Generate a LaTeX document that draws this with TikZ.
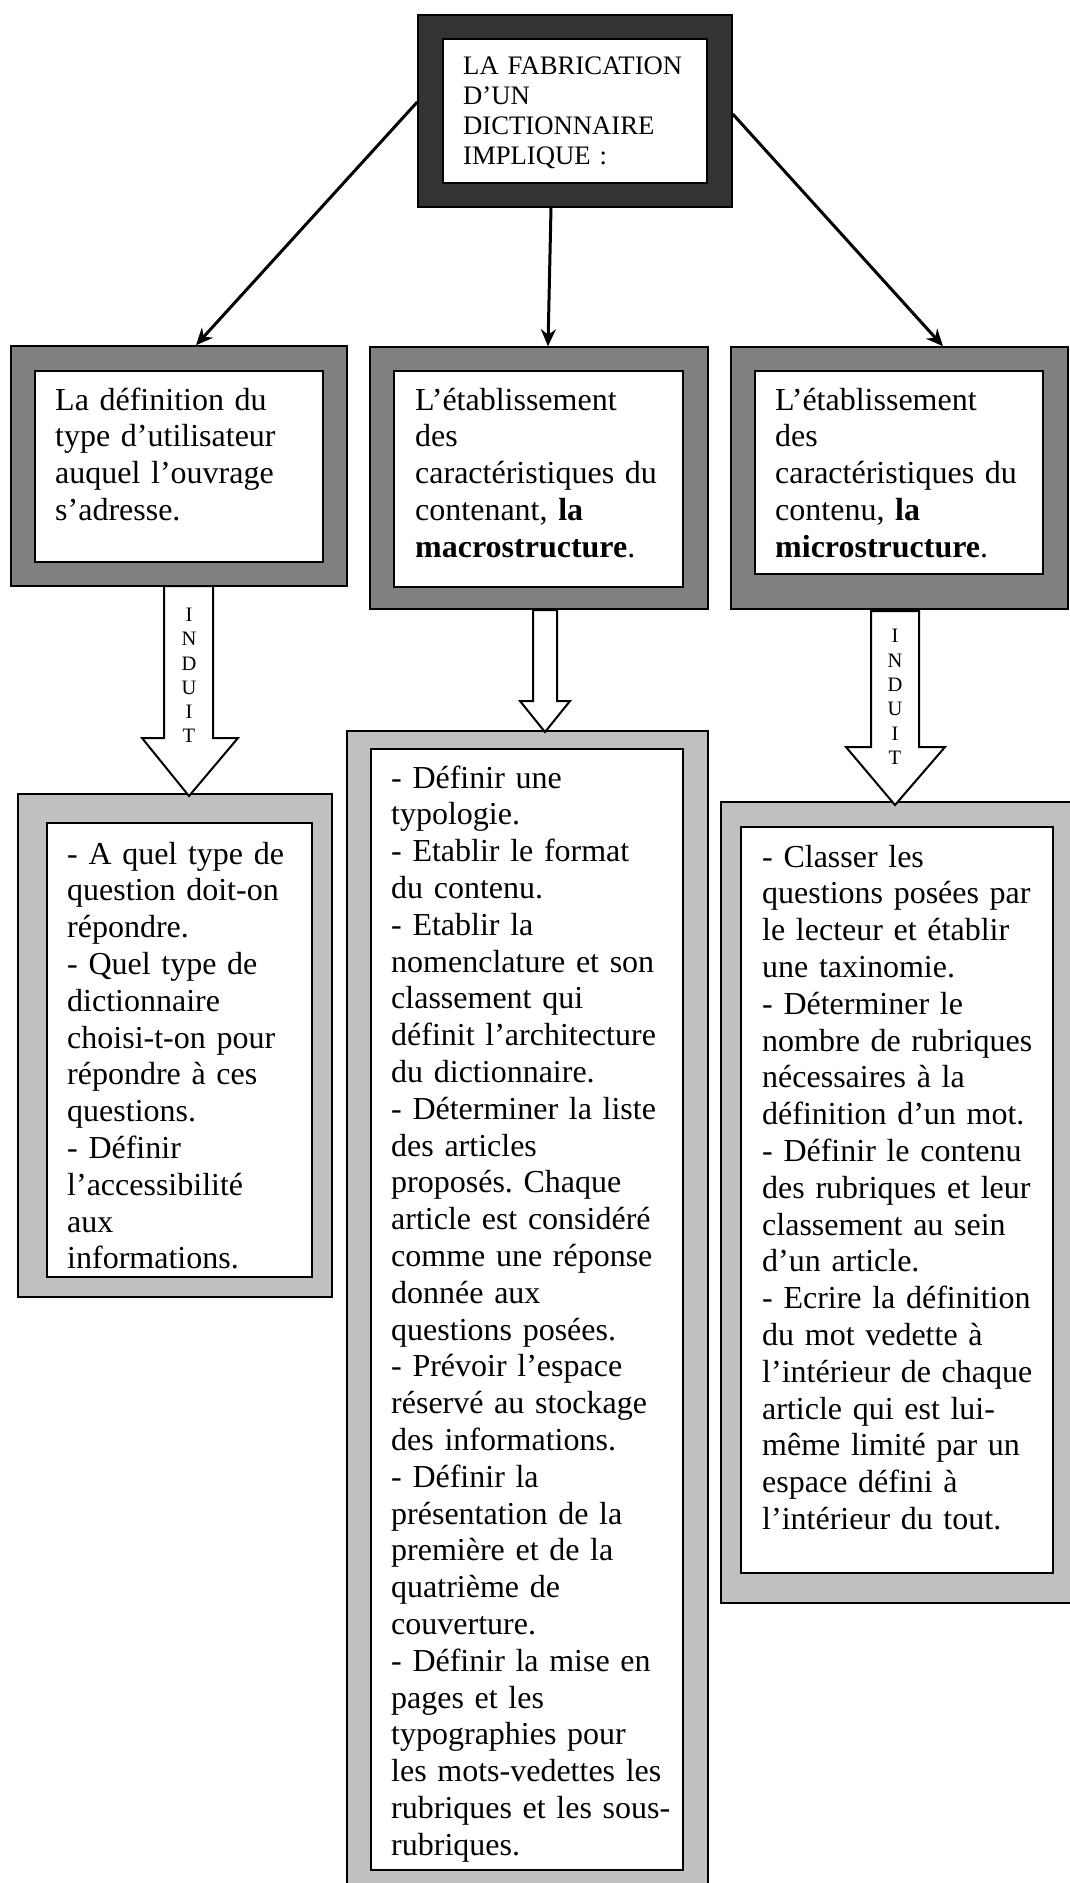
\documentclass[tikz,border=0pt]{standalone}
\usepackage{fontspec}
\setmainfont{Liberation Serif}
\usepackage{xcolor}
\usetikzlibrary{arrows.meta,positioning}
\frenchspacing

\definecolor{darkfill}{HTML}{333333}
\definecolor{midfill}{HTML}{808080}
\definecolor{lightfill}{HTML}{C0C0C0}

\tikzset{
  outerbox/.style={draw=black, line width=1.5pt, inner sep=0pt},
  innerbox/.style={draw=black, line width=1.5pt, fill=white, inner sep=0pt},
  boxtext/.style={anchor=base west, inner sep=0pt, align=left, text width=330pt,
    font=\fontsize{32}{36.8}\selectfont},
  toptext/.style={anchor=base west, inner sep=0pt, align=left, text width=250pt,
    font=\fontsize{26.7}{30.3}\selectfont},
  induit/.style={inner sep=0pt, align=center, font=\fontsize{20.5}{24.3}\selectfont},
  fatarrow/.style={draw=black, line width=2pt, fill=white, line join=miter},
  link/.style={->, line width=3pt}
}

\begin{document}
\begin{tikzpicture}[x=1pt,y=-1pt,>={Stealth[length=17pt,width=15pt]}]
\useasboundingbox (0,0) rectangle (1070,1883);
\clip (0,0) rectangle (1070,1883);

% top box
\node[outerbox, fill=darkfill, minimum width=314pt, minimum height=192pt] (topout) at (575,111) {};
\node[innerbox, minimum width=264pt, minimum height=144pt] (topin) at (575,111) {};
\node[toptext] (toplabel) at (463,74) {LA FABRICATION\\D’UN\\DICTIONNAIRE\\IMPLIQUE :};

% second row
\node[outerbox, fill=midfill, minimum width=336pt, minimum height=240pt] (userout) at (179,466) {};
\node[innerbox, minimum width=288pt, minimum height=191pt] (userin) at (179,466.5) {};
\node[boxtext] (userlabel) at (55,410) {La définition du\\type d’utilisateur\\auquel l’ouvrage\\s’adresse.};

\node[outerbox, fill=midfill, minimum width=338pt, minimum height=262pt] (macroout) at (539,478) {};
\node[innerbox, minimum width=289pt, minimum height=216pt] (macroin) at (538.5,479) {};
\node[boxtext] (macrolabel) at (415,410) {L’établissement\\des\\caractéristiques du\\contenant, \textbf{la}\\\textbf{macrostructure}.};

\node[outerbox, fill=midfill, minimum width=337pt, minimum height=262pt] (microout) at (899.5,478) {};
\node[innerbox, minimum width=288pt, minimum height=203pt] (microin) at (899,472.5) {};
\node[boxtext] (microlabel) at (775,410) {L’établissement\\des\\caractéristiques du\\contenu, \textbf{la}\\\textbf{microstructure}.};

% third row
\node[outerbox, fill=lightfill, minimum width=314pt, minimum height=503pt] (questout) at (175,1045.5) {};
\node[innerbox, minimum width=265pt, minimum height=454pt] (questin) at (179.5,1050) {};
\node[boxtext] (questlabel) at (67,864) {- A quel type de\\question doit-on\\répondre.\\- Quel type de\\dictionnaire\\choisi-t-on pour\\répondre à ces\\questions.\\- Définir\\l’accessibilité\\aux\\informations.};

\node[outerbox, fill=lightfill, minimum width=361pt, minimum height=1169pt] (formout) at (527.5,1315.5) {};
\node[innerbox, minimum width=312pt, minimum height=1121pt] (formin) at (527,1309.5) {};
\begin{scope}
\clip (371,749) rectangle (683,1870);
\node[boxtext] (formlabel) at (391,788) {- Définir une\\typologie.\\- Etablir le format\\du contenu.\\- Etablir la\\nomenclature et son\\classement qui\\définit l’architecture\\du dictionnaire.\\- Déterminer la liste\\des articles\\proposés. Chaque\\article est considéré\\comme une réponse\\donnée aux\\questions posées.\\- Prévoir l’espace\\réservé au stockage\\des informations.\\- Définir la\\présentation de la\\première et de la\\quatrième de\\couverture.\\- Définir la mise en\\pages et les\\typographies pour\\les mots-vedettes les\\rubriques et les sous-\\rubriques.};
\end{scope}

\node[outerbox, fill=lightfill, minimum width=354pt, minimum height=801pt] (contout) at (898,1202.5) {};
\node[innerbox, minimum width=312pt, minimum height=746pt] (contin) at (897,1200) {};
\node[boxtext] (contlabel) at (762,867) {- Classer les\\questions posées par\\le lecteur et établir\\une taxinomie.\\- Déterminer le\\nombre de rubriques\\nécessaires à la\\définition d’un mot.\\- Définir le contenu\\des rubriques et leur\\classement au sein\\d’un article.\\- Ecrire la définition\\du mot vedette à\\l’intérieur de chaque\\article qui est lui-\\même limité par un\\espace défini à\\l’intérieur du tout.};

% links from the top box
\draw[link] ([yshift=9pt]topout.west) -- ([xshift=17pt]userout.north);
\draw[link] ([xshift=-24pt]topout.south) -- ([xshift=9pt]macroout.north);
\draw[link] ([yshift=-3pt]topout.east) -- ([xshift=43.5pt]microout.north);

% hollow arrows
\draw[fatarrow] (164,586) -- (213,586) -- (213,738) -- (238,738) -- (189,796) -- (142,738) -- (164,738) -- cycle;
\node[induit] (induitleft) at (189,675.5) {I\\N\\D\\U\\I\\T};
\draw[fatarrow] (533,610) -- (557,610) -- (557,701) -- (570,701) -- (545,732) -- (520,701) -- (533,701) -- cycle;
\draw[fatarrow] (871,611) -- (919,611) -- (919,747) -- (945,747) -- (895,805) -- (846,747) -- (871,747) -- cycle;
\node[induit] (induitright) at (895,697) {I\\N\\D\\U\\I\\T};
\end{tikzpicture}
\end{document}
